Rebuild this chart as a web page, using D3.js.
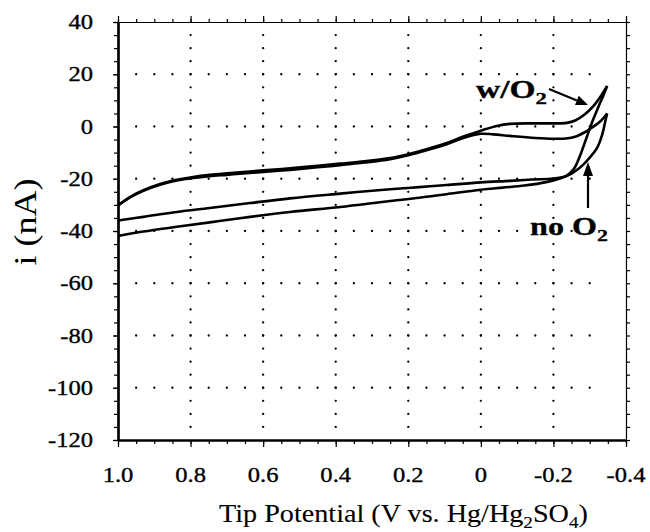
<!DOCTYPE html>
<html>
<head>
<meta charset="utf-8">
<script src="https://cdn.jsdelivr.net/npm/d3@7"></script>
<style>
  body { margin: 0; background: #fff; }
</style>
</head>
<body>
<script>
// axis ticks -----------------------------------------
var xMajor = [1.0, 0.8, 0.6, 0.4, 0.2, 0, -0.2, -0.4];
var xTickText = ['1.0', '0.8', '0.6', '0.4', '0.2', '0', '-0.2', '-0.4'];
var yMajor = [40, 20, 0, -20, -40, -60, -80, -100, -120];

// cyclic voltammograms, [V, nA] -------------------------
// sweep toward negative potential
var wO2Forward = [
  [1.0, -30.2], [0.967, -27.0], [0.93, -24.4], [0.884, -22.0], [0.838, -20.4],
  [0.793, -19.3], [0.747, -18.5], [0.70, -17.9], [0.655, -17.4], [0.6, -16.8],
  [0.526, -16.0], [0.45, -15.0], [0.388, -14.2], [0.32, -13.3], [0.25, -12.1],
  [0.2, -10.6], [0.14, -8.3], [0.094, -6.3], [0.048, -3.8], [0.0, -1.6],
  [-0.044, 0.2], [-0.08, 1.0], [-0.14, 1.2], [-0.2, 1.2], [-0.237, 1.4],
  [-0.26, 2.3], [-0.285, 4.5], [-0.31, 7.8], [-0.33, 11.5], [-0.348, 15.5]
];
// sweep back to 1.0 V
var wO2Return = [
  [-0.348, 15.5], [-0.338, 12.0], [-0.326, 8.2], [-0.309, 2.5], [-0.292, -4.0],
  [-0.273, -11.3], [-0.256, -16.3], [-0.235, -18.9], [-0.2, -19.9], [-0.14, -20.3],
  [-0.08, -20.8], [0.0, -21.4], [0.094, -22.4], [0.17, -23.2], [0.25, -24.0],
  [0.388, -25.7], [0.526, -27.5], [0.636, -29.3], [0.747, -31.2], [0.838, -32.7],
  [0.93, -34.6], [1.0, -36.0]
];
var noO2Forward = [
  [1.0, -30.2], [0.967, -27.1], [0.93, -24.6], [0.884, -22.3], [0.838, -20.7],
  [0.793, -19.7], [0.747, -19.0], [0.70, -18.5], [0.655, -18.0], [0.6, -17.4],
  [0.526, -16.6], [0.45, -15.6], [0.388, -14.8], [0.32, -13.8], [0.25, -12.5],
  [0.2, -11.0], [0.14, -8.7], [0.094, -6.8], [0.048, -4.4], [0.0, -2.8],
  [-0.034, -3.0], [-0.08, -3.6], [-0.15, -4.4], [-0.2, -4.7], [-0.24, -4.5],
  [-0.264, -3.7], [-0.285, -2.3], [-0.30, -1.0], [-0.328, 1.8], [-0.348, 5.0]
];
var noO2Return = [
  [-0.348, 5.0], [-0.343, 2.0], [-0.334, -3.3], [-0.32, -8.3], [-0.30, -11.9],
  [-0.285, -14.2], [-0.27, -16.1], [-0.25, -18.0], [-0.22, -19.8], [-0.18, -21.3],
  [-0.12, -22.6], [-0.06, -23.4], [0.0, -24.2], [0.094, -25.9], [0.17, -27.3],
  [0.25, -28.5], [0.388, -30.8], [0.526, -32.7], [0.664, -35.1], [0.747, -36.7],
  [0.838, -38.4], [0.93, -40.2], [1.0, -41.9]
];

// layout ------------------------------------------------
var W = 650, H = 532;
var FONT = '"Liberation Serif", "Times New Roman", serif';
var x = d3.scaleLinear().domain([1.0, -0.4]).range([118, 626]);
var y = d3.scaleLinear().domain([-120, 40]).range([440, 22]);

var round = function(v) { return Math.round(v * 1000) / 1000; };
var xMinor = d3.range(0, 29).map(function(i) { return round(1.0 - i * 0.05); });
var yMinor = d3.range(-120, 41, 5);

var svg = d3.select('body').append('svg')
  .attr('width', W)
  .attr('height', H);

// dotted grid
var grid = svg.append('g');
var rows = yMajor.slice(1, -1);
var cols = xMajor.slice(1, -1);
rows.forEach(function(v) {
  grid.selectAll(null)
    .data(xMinor.slice(1, -2))
    .enter().append('circle')
    .attr('cx', function(d) { return x(d); })
    .attr('cy', y(v))
    .attr('r', 1.15);
});
cols.forEach(function(v) {
  grid.selectAll(null)
    .data(yMinor.slice(1, -1))
    .enter().append('circle')
    .attr('cx', x(v))
    .attr('cy', function(d) { return y(d); })
    .attr('r', 1.15);
});

// axes helper
var drawAxis = function(axis, transform, width) {
  var g = svg.append('g').attr('transform', transform).call(axis);
  g.select('.domain').attr('stroke-width', width);
  g.selectAll('.tick line').attr('stroke-width', 1.2);
  g.selectAll('.tick text').remove();
  return g;
};

drawAxis(d3.axisTop(x).tickValues(xMinor).tickSize(3).tickSizeOuter(0), 'translate(0,22)', 1.2);
drawAxis(d3.axisTop(x).tickValues(xMajor).tickSize(6).tickSizeOuter(0), 'translate(0,22)', 1.2);
drawAxis(d3.axisRight(y).tickValues(yMinor).tickSize(4).tickSizeOuter(0), 'translate(626,0)', 1.2);
drawAxis(d3.axisBottom(x).tickValues(xMinor).tickSize(4).tickSizeOuter(0), 'translate(0,440)', 2.2);
drawAxis(d3.axisBottom(x).tickValues(xMajor).tickSize(7).tickSizeOuter(0), 'translate(0,440)', 2.2);
drawAxis(d3.axisLeft(y).tickValues(yMinor).tickSize(4).tickSizeOuter(0), 'translate(118,0)', 2.2);
drawAxis(d3.axisLeft(y).tickValues(yMajor).tickSize(5).tickSizeOuter(0), 'translate(118,0)', 2.2);

// text helper: builds text from parts, stretched to a target width
var label = function(parts, opts) {
  var g = svg.append('g');
  var t = g.append('text')
    .style('font-family', FONT)
    .attr('font-size', opts.size)
    .attr('font-weight', opts.bold ? 'bold' : 'normal')
    .attr('fill', '#000')
    .attr('stroke', '#000')
    .attr('stroke-width', opts.stroke || 0)
    .attr('text-anchor', opts.anchor || 'start');
  parts.forEach(function(p) {
    var s = t.append('tspan').text(p.t);
    if (p.sub) s.attr('font-size', opts.size * 0.68).attr('dy', opts.size * 0.22);
    else if (p.after) s.attr('dy', -opts.size * 0.22);
  });
  var sx = opts.sx || 1;
  if (opts.width) sx = opts.width / t.node().getComputedTextLength();
  g.attr('transform', 'translate(' + opts.x + ',' + opts.y + ')' +
    (opts.rotate ? ' rotate(' + opts.rotate + ')' : '') + ' scale(' + sx + ',1)');
  return g;
};

// tick labels
xMajor.forEach(function(v, i) {
  label([{t: xTickText[i]}], {x: x(v), y: 482, size: 21, sx: 1.17, anchor: 'middle', stroke: 0.35});
});
yMajor.forEach(function(v) {
  label([{t: String(v)}], {x: 93, y: y(v) + 7, size: 21, sx: 1.17, anchor: 'end', stroke: 0.35});
});

// axis titles
label([{t: 'Tip Potential (V vs. Hg/Hg'}, {t: '2', sub: true}, {t: 'SO', after: true},
       {t: '4', sub: true}, {t: ')', after: true}],
  {x: 219, y: 522, size: 25, width: 369, stroke: 0.1});
label([{t: 'i (nA)'}], {x: 36, y: 222, size: 32, width: 87, anchor: 'middle', rotate: -90});

// curves
var line = d3.line()
  .x(function(d) { return x(d[0]); })
  .y(function(d) { return y(d[1]); })
  .curve(d3.curveCatmullRom.alpha(0.5));

[wO2Forward, wO2Return, noO2Forward, noO2Return].forEach(function(d) {
  svg.append('path')
    .datum(d)
    .attr('d', line)
    .attr('fill', 'none')
    .attr('stroke', '#000')
    .attr('stroke-width', 2.6)
    .attr('stroke-linejoin', 'round');
});

// annotations
var arrow = function(x1, y1, x2, y2, len, half) {
  var a = Math.atan2(y2 - y1, x2 - x1);
  var bx = x2 - len * Math.cos(a), by = y2 - len * Math.sin(a);
  svg.append('line')
    .attr('x1', x1).attr('y1', y1).attr('x2', bx).attr('y2', by)
    .attr('stroke', '#000').attr('stroke-width', 2.2);
  var px = -Math.sin(a) * half, py = Math.cos(a) * half;
  svg.append('path')
    .attr('d', 'M' + x2 + ',' + y2 + 'L' + (bx + px) + ',' + (by + py) +
      'L' + (bx - px) + ',' + (by - py) + 'Z')
    .attr('fill', '#000');
};

label([{t: 'w/O'}, {t: '2', sub: true}], {x: 476, y: 98, size: 25, bold: true, width: 71, stroke: 0.3});
arrow(549, 89, 588, 105, 12, 5);

label([{t: 'no O'}, {t: '2', sub: true}], {x: 530, y: 235, size: 26, bold: true, width: 78, stroke: 0.3});
arrow(588, 208, 588, 162, 14, 5);
</script>
</body>
</html>
